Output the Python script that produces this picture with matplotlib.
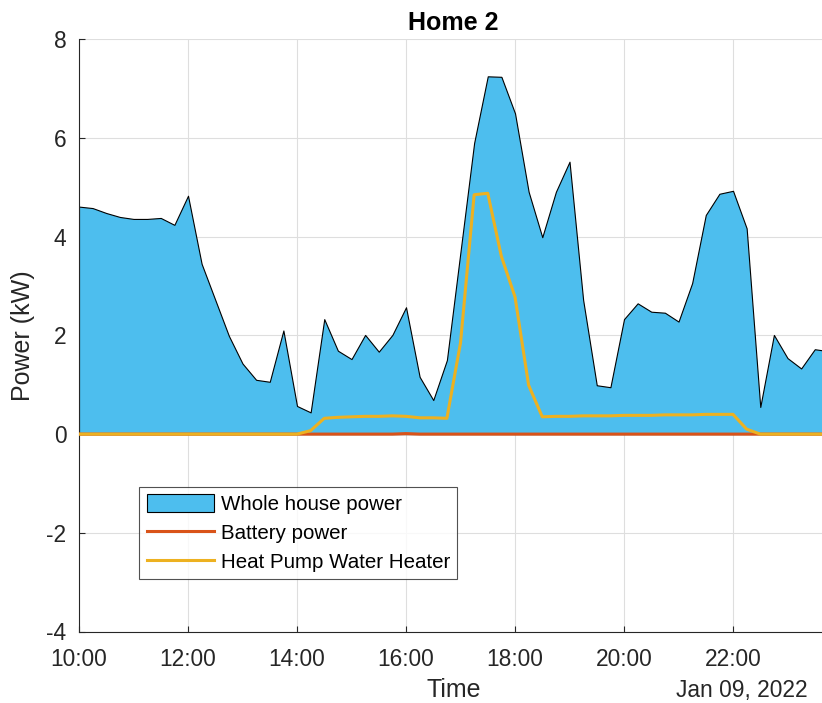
"""
Home 2 power profile: whole house, battery and heat pump water heater.
"""

import numpy as np
import pandas as pd
import matplotlib
matplotlib.use('Agg')
from matplotlib import pyplot as plt
import matplotlib.dates as mdates

plt.rcParams['font.family'] = ['Liberation Sans', 'DejaVu Sans']
plt.rcParams['axes.unicode_minus'] = False

# 15 minute samples, 10:00 .. 23:45 on Jan 09, 2022
t_start = '2022-01-09 10:00'
n_samples = 56
time = pd.date_range(t_start, periods=n_samples, freq='15min')

# whole house power [kW]
house_kw = [4.61, 4.58, 4.48, 4.40, 4.36, 4.36, 4.38, 4.24,
            4.83, 3.45, 2.72, 1.99, 1.43, 1.10, 1.06, 2.10,
            0.57, 0.44, 2.33, 1.69, 1.52, 2.01, 1.67, 2.01,
            2.57, 1.16, 0.69, 1.50, 3.70, 5.90, 7.25, 7.24,
            6.50, 4.91, 3.99, 4.91, 5.52, 2.72, 0.99, 0.95,
            2.33, 2.65, 2.48, 2.46, 2.28, 3.06, 4.44, 4.87,
            4.93, 4.17, 0.55, 2.01, 1.54, 1.33, 1.72, 1.68]

# battery power [kW]
battery_kw = [0.0] * 24 + [0.01] + [0.0] * 31

# heat pump water heater [kW]
hpwh_kw = [0.0] * 16 + [0.0, 0.07, 0.32, 0.34, 0.35, 0.36, 0.36, 0.37,
                        0.36, 0.33, 0.33, 0.32, 1.85, 4.85, 4.88, 3.60,
                        2.78, 0.99, 0.35, 0.36, 0.36, 0.37, 0.37, 0.37,
                        0.38, 0.38, 0.38, 0.39, 0.39, 0.39, 0.40, 0.40,
                        0.40, 0.10] + [0.0] * 6

fill_color = '#4DBEEE'
batt_color = '#D95319'
hpwh_color = '#EDB120'
ax_color = '#262626'

fig = plt.figure(figsize=(8.22, 7.03), dpi=100)
# axes run a bit past the right edge of the figure (cropped like the original)
ax = fig.add_axes([79/822, 71.5/703, 749.4/822, 592.2/703])

ax.fill_between(time, house_kw, 0, facecolor=fill_color, edgecolor='black',
                linewidth=0.8, label='Whole house power', zorder=2)
ax.plot(time, battery_kw, '-', color=batt_color, lw=2.2, label='Battery power', zorder=3)
ax.plot(time, hpwh_kw, '-', color=hpwh_color, lw=2.2, label='Heat Pump Water Heater', zorder=4)

ax.set_xlim(time[0], time[-1])
ax.set_ylim(-4, 8)
ax.set_yticks(np.arange(-4, 9, 2))
ax.xaxis.set_major_locator(mdates.HourLocator(byhour=range(0, 24, 2)))
ax.xaxis.set_major_formatter(mdates.DateFormatter('%H:%M'))

ax.grid(True, color='#dedede', linewidth=0.8, zorder=0)
ax.set_axisbelow(True)
for side in ['top', 'right']:
    ax.spines[side].set_visible(False)
for side in ['left', 'bottom']:
    ax.spines[side].set_color(ax_color)
    ax.spines[side].set_linewidth(0.8)
ax.tick_params(direction='in', length=4, width=0.8, color=ax_color,
               labelcolor=ax_color, labelsize=16.4)
ax.tick_params(axis='x', pad=12)
ax.tick_params(axis='y', pad=9)

ax.set_title('Home 2', fontsize=18, fontweight='bold', color='black', pad=7)
ax.set_ylabel('Power (kW)', fontsize=18, color=ax_color, labelpad=8)
ax.set_xlabel('Time', fontsize=18, color=ax_color, labelpad=5)
fig.text(808/822, 1 - 690/703, 'Jan 09, 2022', fontsize=16.4, color=ax_color,
         ha='right', va='center')

leg = ax.legend(loc='upper left', bbox_to_anchor=(0.0805, 0.2445), borderaxespad=0,
                fontsize=14.8, frameon=True, fancybox=False, handlelength=3.3,
                handleheight=1.0, labelspacing=0.42, handletextpad=0.3,
                borderpad=0.35)
leg.get_frame().set_edgecolor(ax_color)
leg.get_frame().set_linewidth(0.8)
for txt in leg.get_texts():
    txt.set_color('black')

plt.savefig('out.png', dpi=100)
